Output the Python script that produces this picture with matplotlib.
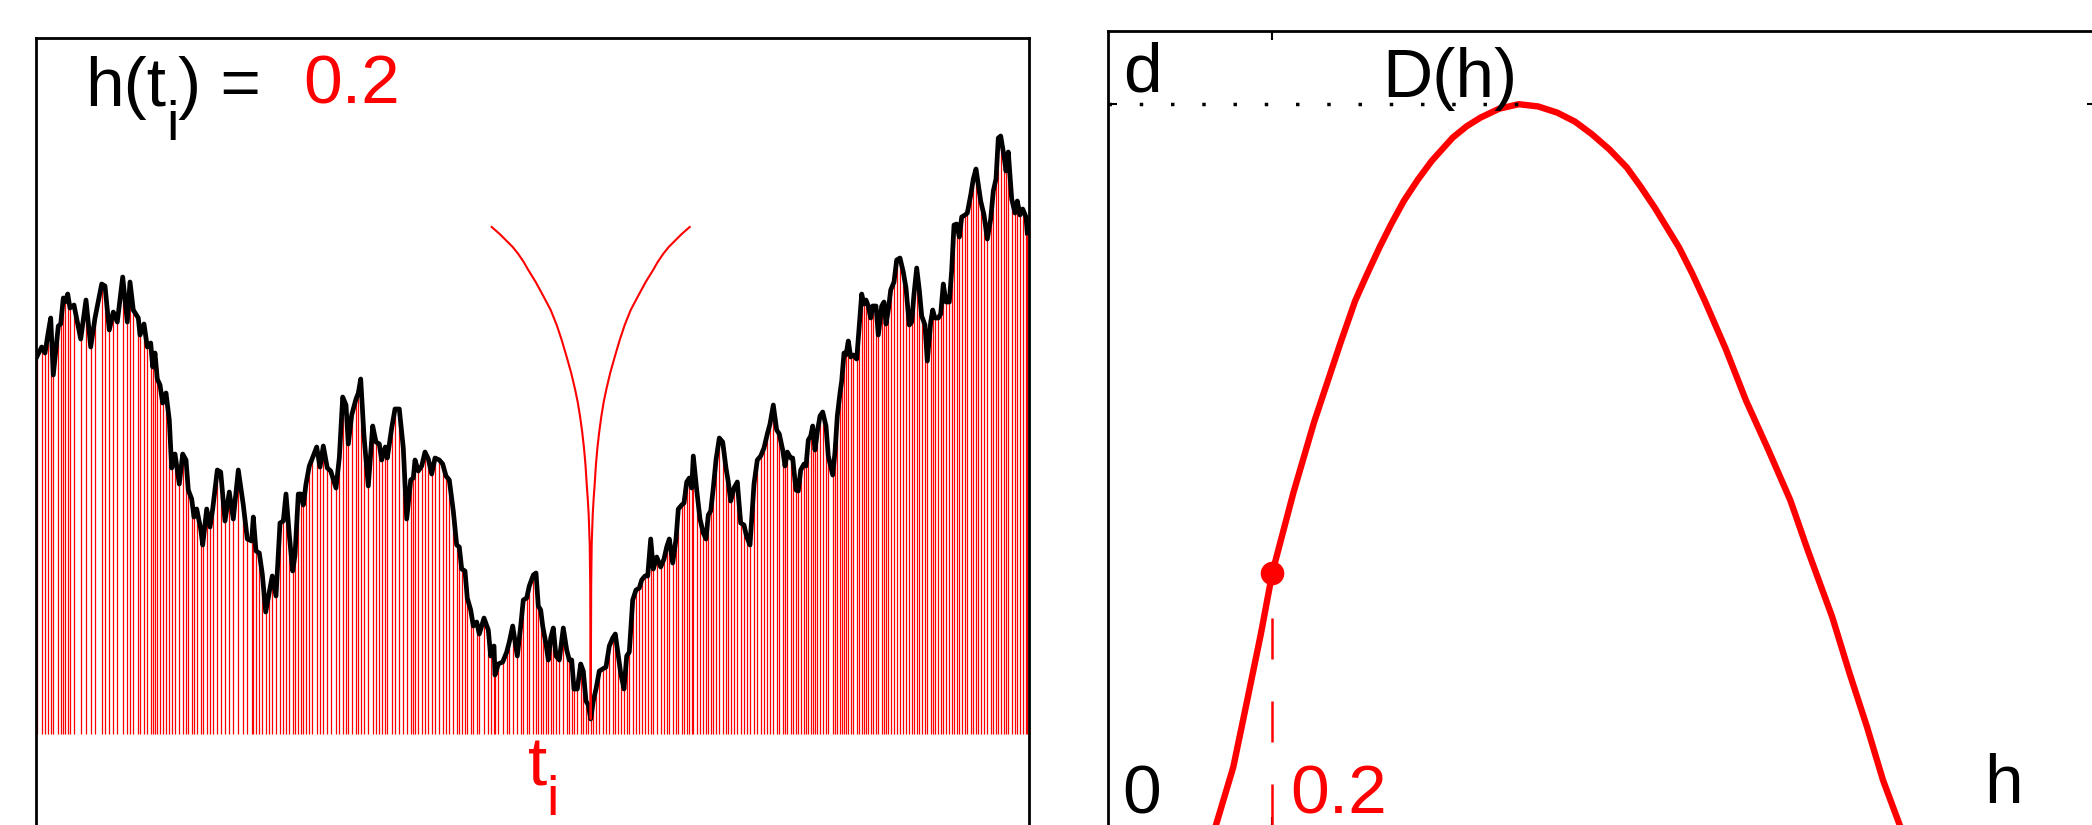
import numpy as np
import matplotlib
matplotlib.use('Agg')
import matplotlib.pyplot as plt

W, H, DPI = 2092, 825, 100

# ---------------- data: left panel (signal) ----------------
t_samples = [
    36.7, 41.7, 45, 48.3, 50.7, 53.3, 58.3, 60.7, 63.3, 65, 67.7, 70, 74, 80.7, 86, 90.7, 95,
    101.7, 105, 109.3, 113.3, 117.3, 122.7, 127.3, 130, 133.3, 138.3, 140, 144, 147.3, 150.7,
    152.7, 155, 157.3, 160, 162.7, 166, 169.3, 171.7, 175, 179.3, 182.7, 186, 188.3, 191.7, 194,
    196.7, 200.7, 202.7, 206.7, 210, 212.7, 217.3, 220.7, 225, 229.3, 233.3, 238.3, 243.3, 247.3,
    251.7, 253.3, 256, 259.3, 262.3, 265.7, 269.3, 272.3, 276,
    280, 283.3, 286, 289.3, 292.7, 295, 298.3, 300.7, 303.3, 306, 309.3, 311.7, 316.7, 320, 323.3,
    327.3, 330.7, 336, 339.3, 342.7, 346, 348.3, 351.7, 356, 358.3, 360.7, 364, 368.3, 372.7, 376,
    379.3, 381.7, 385.3, 387.3, 391.7, 395, 399.3, 403.3, 406.7, 410.7, 413.3, 415, 418.3, 421.7,
    425, 428.3, 431.7, 435, 439.3, 442.7, 446, 449.3, 453.3, 456.7, 459.3, 461.7, 465, 467.3, 470.7,
    473.3, 476.7, 479.3, 484, 488.3, 490.7, 494, 495, 498.3, 502.7, 506.7, 509.3, 512.7, 517.3,
    520.7, 523.3, 526.7, 529.3,
    533.3, 536, 538.3, 540.7, 542.7, 546, 548.3, 550.7, 553.3, 556, 559.3, 563.3, 566.7, 569.3,
    571.7, 574, 577.3, 580.7, 583.3, 586, 588.3, 590.7, 593.3, 596, 599.3, 602.7, 606, 609.3, 612.7,
    615.3, 618.3, 620.7, 624, 626.7, 629.3, 632.7, 636, 639.3, 641.7, 645, 647.7, 650.7, 653.3,
    656.7, 660.7, 664, 666.7, 669.3, 672.7, 676, 678.3, 681.7, 684, 686.7, 689.3, 691.7, 693.3,
    696.7, 700, 703.3, 706, 708.3, 710.7, 713.3, 716, 719.3, 722.7, 726, 728.3, 730.7, 734, 737.3,
    740.7, 744, 746.7, 750, 754, 757.3, 760.7, 764, 767.3, 770, 773.3, 776.7, 779.3,
    782.7, 785, 787.3, 790.7, 792.7, 796, 798.3, 800.7, 804, 806, 808.3, 810.7, 812.7, 815, 817.3,
    820, 822.7, 826, 828.3, 832.7, 835, 837.3, 840, 841.7, 844, 846, 848.3, 850.7, 853.3, 856.7,
    859.3, 861.7, 864, 866, 868.3, 870.7, 872.7, 876, 878.3, 881.7, 884, 886, 888.3, 890.7, 894,
    896.7, 900, 903.3, 906, 909.3, 911.7, 914, 916.7, 919.3, 921.7, 925, 927.3, 930.7, 932.7, 935,
    938.3, 940.7, 943.3, 946, 949.3, 951.7, 954, 956.7, 959.3, 961.7, 965, 967.3, 970.7, 973.3,
    976, 978.3, 980.7, 984, 987.3, 990.7, 993.3, 996, 998.3, 1000.7, 1004, 1006, 1008.3, 1011.7,
    1015, 1017.3, 1020, 1022.7, 1026, 1027.3,
]
signal = [
    377, 387, 381, 402, 416, 359, 408, 410, 436, 432, 440, 426, 429, 395, 434, 387, 416,
    450, 448, 404, 422, 412, 457, 412, 452, 424, 416, 399, 410, 387, 391,
    367, 381, 355, 349, 331, 341, 314, 266, 280, 250, 280, 274, 244, 235, 217,
    225, 205, 189, 225, 207, 225, 264, 262, 213, 242, 215, 264, 229, 195,
    193, 217, 183, 181, 160, 122, 142, 158, 138,
    211, 213, 240, 199, 163, 179, 240, 240, 229, 250, 268, 274, 287, 267, 288,
    266, 263, 246, 276, 337, 329, 290, 319, 335, 341, 355, 298, 248, 308, 292,
    290, 274, 287, 276, 306, 325, 325, 286, 215, 254, 256, 274, 263, 268,
    282, 275, 260, 276, 274, 270, 258, 254, 223, 189, 187, 165, 163, 136, 124,
    108, 112, 100, 116, 104, 78, 88, 59, 70, 72, 82, 92, 108, 78,
    108, 134, 136, 148,
    159, 161, 128, 124, 108, 90, 74, 96, 106, 78, 74, 106, 84, 74,
    74, 45, 45, 70, 63, 33, 29, 15, 33, 45, 63, 65, 67, 88, 96,
    100, 78, 61, 45, 78, 82, 134, 144, 146, 154, 158, 158, 195, 165,
    177, 167, 175, 187, 195, 171, 195, 225, 229, 231, 252, 256, 246, 278,
    244, 215, 201, 195, 219, 223, 246, 274, 296, 292, 266, 252, 233, 246, 252,
    211, 209, 197, 189, 250, 274, 278, 286, 300, 310, 329, 304, 300,
    284, 268, 282, 276, 276, 244, 243, 264, 270, 268, 294, 298, 308, 284, 302,
    318, 322, 308, 278, 259, 282, 318, 341, 353, 381, 379, 393, 377, 379, 375,
    409, 440, 430, 434, 428, 416, 428, 428, 399, 428, 432, 410, 424, 444, 452,
    474, 476, 462, 446, 409, 412, 440, 466, 444, 418, 409, 373, 412, 424, 416,
    416, 420, 450, 432, 432, 464, 509, 510, 497, 517, 519, 521, 539, 555,
    565, 549, 533, 519, 495, 515, 543, 555, 596, 598, 578, 563, 582, 535,
    521, 533, 519, 525, 517, 501,
]
t_i = 590.7                   # position of the singularity
cusp_offsets = [99, 91, 84, 78, 72.4, 67, 62.4, 55, 47.4, 40, 34, 29, 24, 19.5, 15.7, 13,
                10.7, 8.5, 6.7, 5.2, 4, 3, 2, 1, 0.5, 0]
cusp_heights = [507, 500, 493, 487, 480, 472, 464, 452, 438, 424, 409, 394, 377, 361, 345, 332,
                318, 302, 286, 269, 250, 236, 219, 190, 150, 15]
h_value_text = "0.2"

# ---------------- data: right panel (singularity spectrum) ----------------
spec_h = [0.1323, 0.1534, 0.1704, 0.1872, 0.2011, 0.2268, 0.2518, 0.2844, 0.3021, 0.3170,
          0.3317, 0.3465, 0.3615, 0.3785, 0.3955, 0.4210, 0.4380, 0.4549, 0.4780, 0.5016,
          0.5250, 0.5483, 0.5700, 0.5907, 0.6120, 0.6333, 0.6500, 0.6672, 0.6970, 0.7130,
          0.7284, 0.7540, 0.7787, 0.8060, 0.8328, 0.8540, 0.8838, 0.9050, 0.9262, 0.9457,
          0.9661]
spec_D = [0.0, 0.0803, 0.1731, 0.2659, 0.3504, 0.4612, 0.5582, 0.6695, 0.7271, 0.7650,
          0.8010, 0.8345, 0.8657, 0.8950, 0.9211, 0.9533, 0.9690, 0.9810, 0.9935, 0.9996,
          0.9965, 0.9880, 0.9755, 0.9580, 0.9370, 0.9118, 0.8855, 0.8564, 0.8010, 0.7650,
          0.7271, 0.6600, 0.5886, 0.5200, 0.4501, 0.3809, 0.2885, 0.2101, 0.1361, 0.0623,
          0.0]
h_point = 0.2
D_point = 0.35
h_peak = 0.5016
d_level = 1.0

plt.rcParams['font.family'] = ['Liberation Sans', 'DejaVu Sans']

fig = plt.figure(figsize=(W / DPI, H / DPI), dpi=DPI)


def px_axes(x0, y0, x1, y1):
    return fig.add_axes([x0 / W, 1 - y1 / H, (x1 - x0) / W, (y1 - y0) / H])


def ptext(x, y, s, size, color='black'):
    fig.text(x / W, 1 - y / H, s, fontsize=size, color=color,
             ha='left', va='baseline')


# ---------------- left panel ----------------
ax1 = px_axes(36, 38, 1029, 900)
t = np.array(t_samples)
v = np.array(signal, dtype=float)
ax1.vlines(t, 0, v, color='#ff0000', lw=0.9)
ax1.plot(t, v, color='black', lw=3.4, solid_joinstyle='round')
off = np.array(cusp_offsets, dtype=float)
ch = np.array(cusp_heights, dtype=float)
ct = np.concatenate([t_i - off, (t_i + off[::-1])[1:]])
cv = np.concatenate([ch, ch[::-1][1:]])
ax1.plot(ct, cv, color='#ff0000', lw=1.5)
ax1.set_xlim(36, 1029)
ax1.set_ylim(-166, 696)
ax1.set_xticks([])
ax1.set_yticks([])
for s in ax1.spines.values():
    s.set_linewidth(2.0)

# ---------------- right panel ----------------
ax2 = px_axes(1107.5, 31, 2096, 826)
ax2.set_xlim(0, (2096 - 1107.5) / 820)
ax2.set_ylim(-1 / 722, 795 / 722)
ax2.plot(spec_h, spec_D, color='#ff0000', lw=4.6, solid_joinstyle='round')
ax2.plot([0, h_peak], [d_level, d_level], color='black', lw=2.5, dashes=(1, 8))
ax2.plot([h_point, h_point], [0, D_point], color='#ff0000', lw=1.8, dashes=(16.4, 16.8))
ax2.plot([h_point], [D_point], 'o', color='#ff0000', ms=16)
ax2.set_xticks([h_point])
ax2.set_yticks([d_level])
ax2.tick_params(direction='in', length=6.5, width=1.5, top=True, right=True,
                labelbottom=False, labelleft=False)
for s in ax2.spines.values():
    s.set_linewidth(2.0)

# ---------------- texts ----------------
ptext(85, 106, 'h(t', 50)
ptext(166.5, 140, 'i', 40)
ptext(178, 106, ') =', 50)
ptext(303, 104, h_value_text, 50, '#ff0000')
ptext(528, 785, 't', 50, '#ff0000')
ptext(546.5, 815, 'i', 40, '#ff0000')

ptext(1123, 92, 'd', 50)
ptext(1382, 97, 'D(h)', 50)
ptext(1122, 814, '0', 50)
ptext(1290, 814, h_value_text, 50, '#ff0000')
ptext(1984, 803, 'h', 50)

fig.savefig('out.png', dpi=DPI)
